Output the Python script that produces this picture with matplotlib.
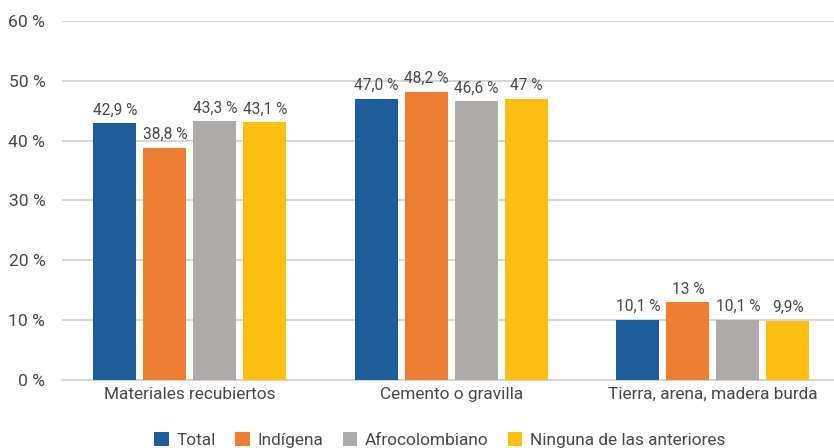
import numpy as np
import matplotlib
matplotlib.use("Agg")
import matplotlib.pyplot as plt

plt.rcParams['font.family'] = ['Roboto', 'DejaVu Sans']

categories = ["Materiales recubiertos", "Cemento o gravilla", "Tierra, arena, madera burda"]
series = ["Total", "Indígena", "Afrocolombiano", "Ninguna de las anteriores"]
values = [
    [42.9, 47.0, 10.1],
    [38.8, 48.2, 13.0],
    [43.3, 46.6, 10.1],
    [43.1, 47.0, 9.9],
]
labels = [
    ["42,9 %", "47,0 %", "10,1 %"],
    ["38,8 %", "48,2 %", "13 %"],
    ["43,3 %", "46,6 %", "10,1 %"],
    ["43,1 %", "47 %", "9,9%"],
]
colors = ["#1F5C9A", "#ED7D31", "#AEAAAA", "#FDBF13"]
yticks = [0, 10, 20, 30, 40, 50, 60]

text_color = "#484848"
grid_color = "#D0D0D0"
fs = 12.4
weight = "normal"

fig = plt.figure(figsize=(8.34, 4.48), dpi=100)
ax = fig.add_axes([62 / 834, 1 - 380 / 448, 1 - 62 / 834, (380 - 21) / 448])

x = np.arange(len(categories))
step = 50 / 261.5
width = 43 / 261.5
for i, (name, vals, labs, col) in enumerate(zip(series, values, labels, colors)):
    pos = x + (i - 1.5) * step
    bars = ax.bar(pos, vals, width, color=col, label=name, zorder=3)
    for b, lab in zip(bars, labs):
        ax.annotate(lab, (b.get_x() + b.get_width() / 2, b.get_height()),
                    xytext=(0, 4), textcoords="offset points",
                    ha="center", va="bottom", fontsize=11.2,
                    color=text_color, fontweight=weight, zorder=4)

ax.set_ylim(0, 60)
ax.set_xlim(-0.489, 2.463)
ax.set_yticks(yticks)
ax.set_yticklabels([f"{t} %" for t in yticks])
ax.set_xticks(x)
ax.set_xticklabels(categories)
ax.tick_params(axis="y", length=0, pad=12, labelsize=12.6, labelcolor=text_color)
ax.tick_params(axis="x", length=0, pad=5, labelsize=fs, labelcolor=text_color)
for lab in ax.get_xticklabels() + ax.get_yticklabels():
    lab.set_fontweight(weight)

ax.grid(axis="y", color=grid_color, linewidth=1.2, zorder=0)
for s in ["top", "right", "left"]:
    ax.spines[s].set_visible(False)
ax.spines["bottom"].set_color(grid_color)
ax.spines["bottom"].set_linewidth(1.2)

leg = fig.legend(loc="center", bbox_to_anchor=(440 / 834, 1 - 440 / 448), ncol=4,
                 frameon=False, handlelength=0.84, handleheight=0.84,
                 handletextpad=0.45, columnspacing=1.12, fontsize=12.4,
                 borderpad=0.2)
for t in leg.get_texts():
    t.set_color(text_color)
    t.set_fontweight(weight)

fig.savefig("out.png", dpi=100)
